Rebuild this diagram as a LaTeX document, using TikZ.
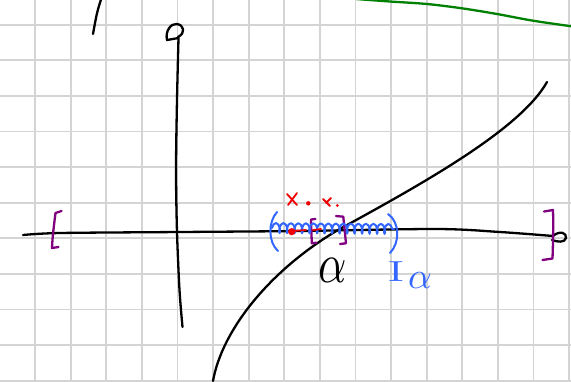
\documentclass[tikz,border=0pt]{standalone}
\usetikzlibrary{decorations.pathmorphing}
\definecolor{gridgray}{RGB}{212,212,212}
\definecolor{penblue}{RGB}{51,102,255}
\definecolor{penpurple}{RGB}{128,0,128}
\definecolor{pengreen}{RGB}{0,128,0}
\definecolor{penred}{RGB}{240,0,0}
\begin{document}
\begin{tikzpicture}[x=1pt,y=-1pt,
  gridline/.style={draw=gridgray,line width=1.8pt},
  ink/.style={line width=2.3pt,line cap=round,line join=round},
  blackink/.style={ink,draw=black},
  greenink/.style={ink,draw=pengreen},
  purpleink/.style={ink,draw=penpurple},
  blueink/.style={line width=2pt,line cap=round,line join=round,draw=penblue},
  redink/.style={line width=1.8pt,line cap=round,draw=penred},
  reddot/.style={fill=penred,draw=none}]
\useasboundingbox (0,0) rectangle (571,381);
\fill[white] (0,0) rectangle (571,381);
% grid
\foreach \k in {-1,...,15} \draw[gridline] ({35+35.6*\k},0) -- ++(0,381);
\foreach \k in {-1,...,10} \draw[gridline] (0,{24.7+35.6*\k}) -- ++(571,0);
% top-left stroke
\draw[blackink] (101.5,-2) .. controls (97,12) .. (93,34);
% green curve
\draw[greenink] plot[smooth] coordinates {(356,-1)(390,1.5)(427,4)(462,8.3)(497,14)(533,20.7)(573,26.5)};
% vertical axis with curl
\draw[blackink] plot[smooth] coordinates {(182.5,327)(179.5,290)(177,232)(176,170)(177,100)(178.5,38)}
  -- (167,40) .. controls (165,31) and (171,23) .. (177,24) .. controls (184,25) and (186,33) .. (178,37);
% horizontal axis with end loop
\draw[blackink] plot[smooth] coordinates {(23,235)(60,233)(180,232)(300,231)(437,229)(500,232)(553,236)}
  .. controls (560,230) and (567,233) .. (566,238) .. controls (565,243) and (557,242) .. (552,240);
% function curve
\draw[blackink] (213,381) .. controls (222,330) and (270,270) .. (338,230)
  .. controls (420,185) and (520,130) .. (547,82);
% outer purple brackets
\draw[purpleink] (61.5,211) -- (55.5,213) .. controls (54,225) and (52.5,236) .. (52,248) -- (58.5,247);
\draw[purpleink] (544,211.5) -- (553,210) .. controls (553.5,225) and (553,245) .. (552.5,258.5) -- (542.5,260);
% inner purple brackets
\draw[purpleink] (315.5,219) -- (311,219.5) -- (311.8,243.3) -- (316.5,242.7);
\draw[purpleink] (336,216) -- (343.3,216.7) .. controls (345,230) .. (346,243.3) -- (340,244);
% blue interval
\draw[blueink] (277,212) .. controls (268,222) and (268,242) .. (278,251);
\draw[blueink] (388,214) .. controls (400,222) and (400,243) .. (390,253);
\draw[blueink,decorate,decoration={coil,aspect=0.4,amplitude=5pt,segment length=7.5pt}] (272,228) -- (394,229);
% red marks
\draw[redink] (287,194) -- (297,205) (297,193) -- (288,205);
\fill[reddot] (308.3,203.3) circle (2.2);
\draw[redink] (323,199) -- (330,206) (331,198) -- (326,203);
\fill[reddot] (337.3,205.5) circle (1.5);
\fill[reddot] (291.7,231.7) circle (3.6);
\draw[redink] (292,231) -- (306,230);
\draw[redink] (313,230) -- (321,229);
% labels
\node[inner sep=0,xscale=4.4,yscale=5.6] (alab) at (333,270) {$\alpha$};
\node[inner sep=0,text=penblue,xscale=4.2,yscale=2.9] (ilab) at (396,272) {I};
\node[inner sep=0,text=penblue,scale=3.7] (alphalab) at (420,281) {$\alpha$};
\end{tikzpicture}
\end{document}
